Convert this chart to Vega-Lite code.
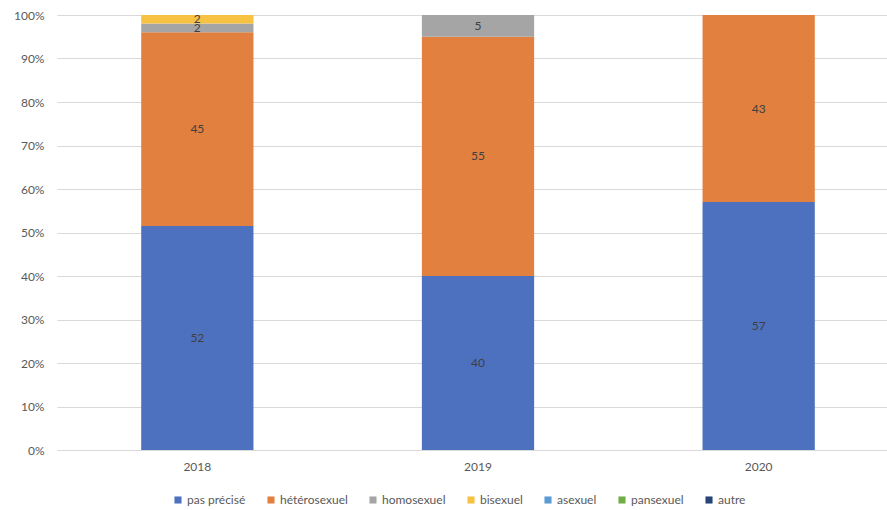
{
  "$schema": "https://vega.github.io/schema/vega-lite/v6.json",
  "width": 842,
  "height": 435,
  "autosize": {"type": "none"},
  "padding": {"left": 57, "top": 15, "right": 0, "bottom": 60},
  "background": "white",
  "data": {
    "values": [
      {"annee": "2018", "orientation": "pas précisé", "rang": 1, "n": 52},
      {"annee": "2018", "orientation": "hétérosexuel", "rang": 2, "n": 45},
      {"annee": "2018", "orientation": "homosexuel", "rang": 3, "n": 2},
      {"annee": "2018", "orientation": "bisexuel", "rang": 4, "n": 2},
      {"annee": "2019", "orientation": "pas précisé", "rang": 1, "n": 40},
      {"annee": "2019", "orientation": "hétérosexuel", "rang": 2, "n": 55},
      {"annee": "2019", "orientation": "homosexuel", "rang": 3, "n": 5},
      {"annee": "2020", "orientation": "pas précisé", "rang": 1, "n": 57},
      {"annee": "2020", "orientation": "hétérosexuel", "rang": 2, "n": 43}
    ]
  },
  "transform": [
    {"stack": "n", "groupby": ["annee"], "sort": [{"field": "rang", "order": "ascending"}], "offset": "normalize", "as": ["bas", "haut"]},
    {"calculate": "(datum.bas + datum.haut) / 2", "as": "milieu"}
  ],
  "encoding": {
    "x": {
      "field": "annee",
      "type": "nominal",
      "scale": {"paddingInner": 0.6, "paddingOuter": 0.3},
      "axis": {
        "title": null,
        "labelAngle": 0,
        "ticks": false,
        "domain": true,
        "domainColor": "#d9d9d9",
        "domainWidth": 1,
        "labelPadding": 11,
        "labelFont": "Lato",
        "labelFontSize": 12,
        "labelColor": "#595959"
      }
    }
  },
  "layer": [
    {
      "mark": {"type": "bar"},
      "encoding": {
        "y": {
          "field": "bas",
          "type": "quantitative",
          "scale": {"domain": [0, 1], "nice": false},
          "axis": {
            "title": null,
            "format": ".0%",
            "values": [0, 0.1, 0.2, 0.3, 0.4, 0.5, 0.6, 0.7, 0.8, 0.9, 1],
            "labelOverlap": false,
            "domain": false,
            "ticks": false,
            "grid": true,
            "gridColor": "#d9d9d9",
            "gridWidth": 1,
            "labelPadding": 13,
            "labelFont": "Lato",
            "labelFontSize": 12,
            "labelColor": "#595959"
          }
        },
        "y2": {"field": "haut"},
        "color": {
          "field": "orientation",
          "type": "nominal",
          "scale": {
            "domain": ["pas précisé", "hétérosexuel", "homosexuel", "bisexuel", "asexuel", "pansexuel", "autre"],
            "range": ["#4D71BF", "#E2803F", "#A5A5A5", "#F7C242", "#5B9BD5", "#70AD47", "#264478"]
          },
          "legend": {
            "title": null,
            "orient": "none",
            "direction": "horizontal",
            "columns": 7,
            "legendX": 115,
            "legendY": 479,
            "symbolType": "square",
            "symbolSize": 50,
            "symbolStrokeWidth": 0,
            "columnPadding": 19,
            "labelFont": "Lato",
            "labelFontSize": 12,
            "labelColor": "#595959",
            "labelOffset": 3
          }
        }
      }
    },
    {
      "mark": {"type": "text", "font": "Lato", "fontSize": 12, "color": "#404040", "baseline": "middle"},
      "encoding": {
        "y": {"field": "milieu", "type": "quantitative"},
        "text": {"field": "n", "type": "quantitative"}
      }
    }
  ],
  "config": {"view": {"stroke": null}}
}
